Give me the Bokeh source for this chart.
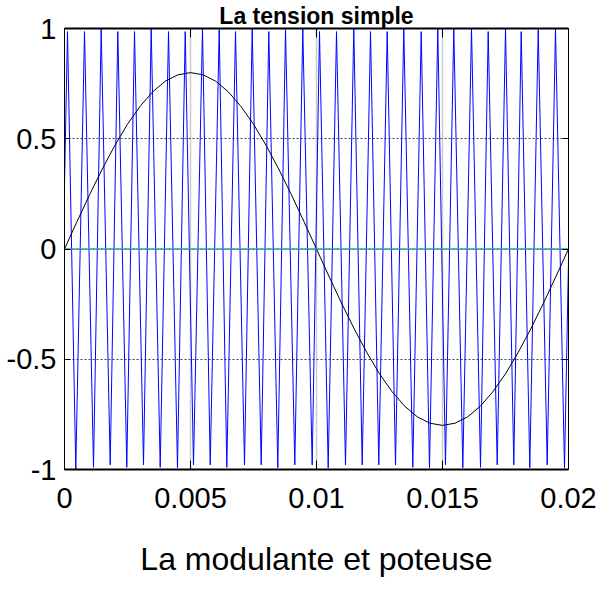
from bokeh.plotting import figure
from bokeh.models import (LinearAxis, Range1d, FixedTicker, Grid,
                          CustomJSTickFormatter)
from bokeh.embed import file_html
from bokeh.resources import INLINE

# Modulating sine (modulante), sampled every 0.5 ms
mod_t = [0.0, 0.0005, 0.001, 0.0015, 0.002, 0.0025, 0.003, 0.0035, 0.004, 0.0045,
         0.005, 0.0055, 0.006, 0.0065, 0.007, 0.0075, 0.008, 0.0085, 0.009, 0.0095,
         0.01, 0.0105, 0.011, 0.0115, 0.012, 0.0125, 0.013, 0.0135, 0.014, 0.0145,
         0.015, 0.0155, 0.016, 0.0165, 0.017, 0.0175, 0.018, 0.0185, 0.019, 0.0195,
         0.02]
mod_v = [0.0, 0.125, 0.247, 0.363, 0.470, 0.566, 0.647, 0.713, 0.761, 0.790,
         0.800, 0.790, 0.761, 0.713, 0.647, 0.566, 0.470, 0.363, 0.247, 0.125,
         0.0, -0.125, -0.247, -0.363, -0.470, -0.566, -0.647, -0.713, -0.761, -0.790,
         -0.800, -0.790, -0.761, -0.713, -0.647, -0.566, -0.470, -0.363, -0.247, -0.125,
         0.0]

# Triangular carrier (porteuse): peak and trough instants and levels
peak_t = [0.000119, 0.000794, 0.001456, 0.002115, 0.002778, 0.003440, 0.004127,
          0.004790, 0.005476, 0.006139, 0.006786, 0.007448, 0.008107, 0.008770,
          0.009456, 0.010119, 0.010794, 0.011480, 0.012143, 0.012806, 0.013464,
          0.014155, 0.014813, 0.015448, 0.016151, 0.016813, 0.017500, 0.018123,
          0.018798, 0.019484]
peak_v = [0.986, 0.986, 1.0, 0.986, 0.986, 1.0, 0.986, 0.986, 1.0, 0.995,
          0.986, 1.0, 0.986, 0.995, 1.0, 0.986, 0.986, 1.0, 0.986, 0.986,
          1.0, 0.986, 1.0, 1.0, 1.0, 0.986, 1.0, 0.986, 0.995, 1.0]
trough_t = [0.000448, 0.001151, 0.001813, 0.002472, 0.003135, 0.003798, 0.004484,
            0.005119, 0.005782, 0.006440, 0.007143, 0.007806, 0.008464, 0.009139,
            0.009829, 0.010464, 0.011151, 0.011813, 0.012472, 0.013135, 0.013821,
            0.014484, 0.015119, 0.015806, 0.016508, 0.017171, 0.017829, 0.018464,
            0.019155, 0.019841]
trough_v = [-1.0, -0.99, -0.979, -0.99, -0.979, -0.99, -0.992, -0.979, -0.979, -0.99,
            -0.979, -0.979, -0.992, -0.979, -0.979, -0.992, -0.979, -0.979, -0.979, -0.979,
            -0.99, -0.992, -0.979, -0.992, -0.99, -0.979, -0.979, -0.992, -0.979, -0.992]
carrier_start = (0.0, 0.29)
carrier_end = (0.02, -0.05)

# Zero reference signal
zero_t = [0.0, 0.02]
zero_v = [0.0, 0.0]

x_ticks = [0.0, 0.005, 0.01, 0.015, 0.02]
x_labels = ["0", "0.005", "0.01", "0.015", "0.02"]
y_ticks = [-1.0, -0.5, 0.0, 0.5, 1.0]
y_labels = ["-1", "-0.5", "0", "0.5", "1"]

FONT = "Liberation Sans"

# interleave carrier vertices
car_t = [carrier_start[0]]
car_v = [carrier_start[1]]
for pt, pv, tt, tv in zip(peak_t, peak_v, trough_t, trough_v):
    car_t += [pt, tt]
    car_v += [pv, tv]
car_t.append(carrier_end[0])
car_v.append(carrier_end[1])

p = figure(width=597, height=596, output_backend="svg", toolbar_location=None,
           x_range=Range1d(0, 0.02), y_range=Range1d(-1, 1),
           x_axis_type=None, y_axis_type=None,
           title="La tension simple",
           min_border_left=64, min_border_right=29,
           min_border_top=0, min_border_bottom=127)
p.outline_line_color = "black"
p.outline_line_width = 1
p.background_fill_color = "white"
p.border_fill_color = "white"

p.title.text_font = FONT
p.title.text_font_size = "23px"
p.title.text_font_style = "bold"
p.title.text_color = "black"
p.title.align = "center"
p.title.offset = 14
p.title.standoff = 0

xt = FixedTicker(ticks=x_ticks, minor_ticks=[])
yt = FixedTicker(ticks=y_ticks, minor_ticks=[])
blank = CustomJSTickFormatter(code="return ''")


def style(ax, tick_in, line_w):
    ax.major_tick_in = tick_in
    ax.major_tick_out = 0
    ax.minor_tick_in = 0
    ax.minor_tick_out = 0
    ax.axis_line_color = "black"
    ax.axis_line_width = line_w
    ax.major_tick_line_color = "black"
    ax.major_label_text_font = FONT
    ax.major_label_text_color = "black"


xb = LinearAxis(ticker=xt, major_label_overrides=dict(zip(x_ticks, x_labels)))
style(xb, 9, 2)
xb.major_label_text_font_size = "29px"
xb.major_label_standoff = 18
xb.axis_label = "La modulante et poteuse"
xb.axis_label_text_font = FONT
xb.axis_label_text_font_size = "32px"
xb.axis_label_text_font_style = "normal"
xb.axis_label_text_color = "black"
xb.axis_label_standoff = 30
p.add_layout(xb, "below")

xa = LinearAxis(ticker=xt, formatter=blank)
style(xa, 9, 2)
xa.major_label_text_font_size = "1px"
xa.major_label_standoff = 0
p.add_layout(xa, "above")

yl = LinearAxis(ticker=yt, major_label_overrides=dict(zip(y_ticks, y_labels)))
style(yl, 6, 1)
yl.major_label_text_font_size = "29px"
yl.major_label_standoff = 8
p.add_layout(yl, "left")

yr = LinearAxis(ticker=yt, formatter=blank)
style(yr, 6, 1)
yr.major_label_text_font_size = "1px"
yr.major_label_standoff = 0
p.add_layout(yr, "right")

p.add_layout(Grid(dimension=0, ticker=xt, grid_line_color="#9a9a9a",
                  grid_line_width=1.5, grid_line_dash="1 1"))
p.add_layout(Grid(dimension=1, ticker=yt, grid_line_color="#404040",
                  grid_line_width=1, grid_line_dash="2 2"))

p.line(car_t, car_v, line_color="#0000ff", line_width=1)
p.line(mod_t, mod_v, line_color="black", line_width=1)
p.line(zero_t, zero_v, line_color="#3a9e9e", line_width=1.5)

open("out.html", "w").write(file_html(p, INLINE))
